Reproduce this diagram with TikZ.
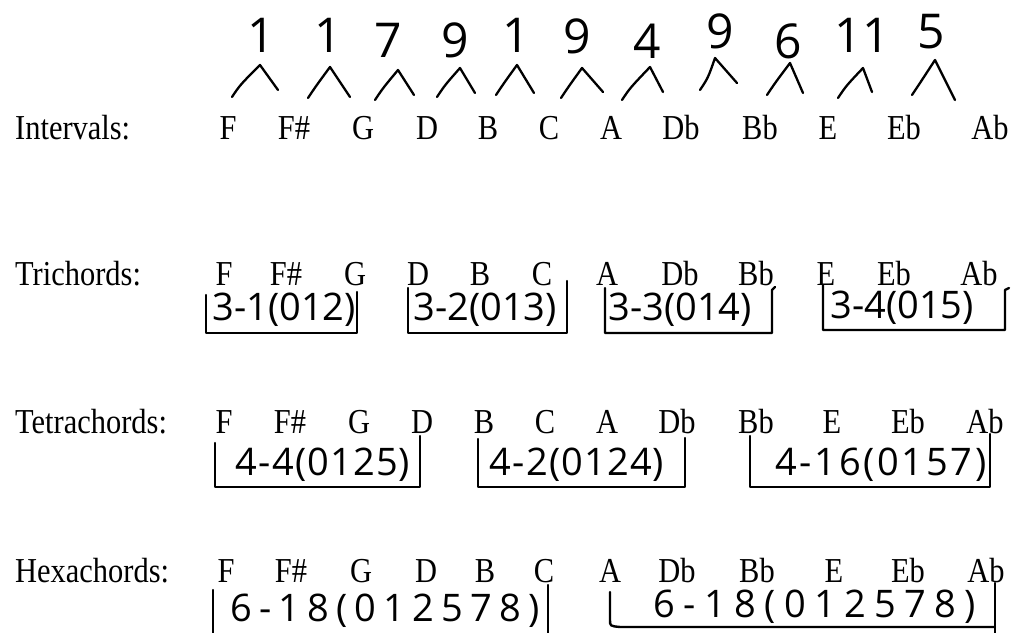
\documentclass[tikz,border=0pt]{standalone}
\usepackage{fontspec}
\setmainfont{Liberation Serif}[FakeStretch=0.87]
\newfontfamily\handA{Open Sans}
\newfontfamily\handB{Open Sans}[LetterSpace=3]
\newfontfamily\handBB{Open Sans}[LetterSpace=7]
\newfontfamily\handC{Open Sans}[LetterSpace=19]
\newfontfamily\handCC{Open Sans}[LetterSpace=22]
\begin{document}
\begin{tikzpicture}[x=1pt,y=-1pt,
  note/.style={anchor=base,inner sep=0pt,font=\fontsize{35}{35}\selectfont},
  lbl/.style={anchor=base west,inner sep=0pt,font=\fontsize{35}{35}\selectfont},
  num/.style={inner sep=0pt,font=\handA\fontsize{48}{48}\selectfont},
  hw/.style={inner sep=0pt,font=\handA\fontsize{38}{38}\selectfont},
  hwb/.style={inner sep=0pt,font=\handB\fontsize{38}{38}\selectfont},
  hwbb/.style={inner sep=0pt,font=\handBB\fontsize{38}{38}\selectfont},
  hwc/.style={inner sep=0pt,font=\handC\fontsize{38}{38}\selectfont},
  hwcc/.style={inner sep=0pt,font=\handCC\fontsize{38}{38}\selectfont},
  caret/.style={line width=2.3pt,line cap=round,line join=round},
  brk/.style={line width=2.4pt,line cap=round,line join=round}]
\useasboundingbox[fill=white] (0,0) rectangle (1012,632);

% ---------- Intervals row ----------
\node[lbl] (lI) at (15,139) {Intervals:};
\foreach \n/\x [count=\i] in {F/228,F\#/294,G/363,D/427,B/488,C/549,A/611,Db/681,Bb/760,E/828,Eb/904,Ab/990}
  \node[note] (i\i) at (\x,139) {\n};

% interval numbers
\foreach \t/\x/\y [count=\i] in {1/261/35,1/328/35,7/388/40,9/455/40,1/516/35,9/577/36,4/647/41,9/720/31,6/788/41,11/862/35,5/931/32}
  \node[num] (n\i) at (\x,\y) {\t};

% carets
\foreach \ax/\ay/\bx/\by/\cx/\cy in {
  232/97/260/65/278/90, 308/98/330/67/350/97, 375/100/398/70/414/95,
  437/97/460/68/475/93, 496/95/517/65/534/93, 561/98/582/68/603/92,
  622/100/650/67/663/92, 700/90/715/58/737/83, 767/95/790/63/803/93,
  838/98/863/68/872/92, 912/95/935/60/955/100}
  \draw[caret] (\ax,\ay) .. controls (\ax+8,\ay-12) .. (\bx,\by) -- (\cx,\cy);

% ---------- Trichords row ----------
\node[lbl] (lT) at (15,285) {Trichords:};
\foreach \n/\x [count=\i] in {F/224,F\#/286,G/355,D/418,B/480,C/542,A/607,Db/680,Bb/756,E/826,Eb/894,Ab/979}
  \node[note] (t\i) at (\x,285) {\n};
\node[hw] (ta) at (284,310) {3-1(012)};
\node[hw] (tb) at (485,310) {3-2(013)};
\node[hw] (tc) at (680,310) {3-3(014)};
\node[hw] (td) at (902,308) {3-4(015)};
\draw[brk] (206,295) -- (206,333) -- (357,333) -- (357,292);
\draw[brk] (408,288) -- (408,333) -- (567,333) -- (567,281);
\draw[brk] (605,288) -- (605,333) -- (772,333) -- (772,290) -- (775,287);
\draw[brk] (823,285) -- (823,330) -- (1005,330) -- (1005,290) -- (1009,288);

% ---------- Tetrachords row ----------
\node[lbl] (lR) at (15,433) {Tetrachords:};
\foreach \n/\x [count=\i] in {F/224,F\#/290,G/359,D/422,B/484,C/545,A/607,Db/677,Bb/756,E/832,Eb/908,Ab/985}
  \node[note] (r\i) at (\x,433) {\n};
\node[hwb] (ra) at (323,465) {4-4(0125)};
\node[hwb] (rb) at (577,465) {4-2(0124)};
\node[hwbb] (rc) at (881,465) {4-16(0157)};
\draw[brk] (215,443) -- (215,487) -- (420,487) -- (420,436);
\draw[brk] (478,439) -- (478,487) -- (685,487) -- (685,438);
\draw[brk] (750,436) -- (750,487) -- (990,487) -- (990,434);

% ---------- Hexachords row ----------
\node[lbl] (lH) at (15,582) {Hexachords:};
\foreach \n/\x [count=\i] in {F/226,F\#/291,G/361,D/426,B/485,C/544,A/610,Db/677,Bb/757,E/834,Eb/908,Ab/986}
  \node[note] (h\i) at (\x,582) {\n};
\node[hwc] (ha) at (385,611) {6-18(012578)};
\node[hwcc] (hb) at (815,607) {6-18(012578)};
\draw[brk] (213,590) -- (213,634) -- (548,634) -- (548,585);
\draw[brk] (610,592) -- (610,620) .. controls (610,626) .. (620,627) -- (995,627);
\draw[brk] (995,583) -- (995,636);
\end{tikzpicture}
\end{document}
